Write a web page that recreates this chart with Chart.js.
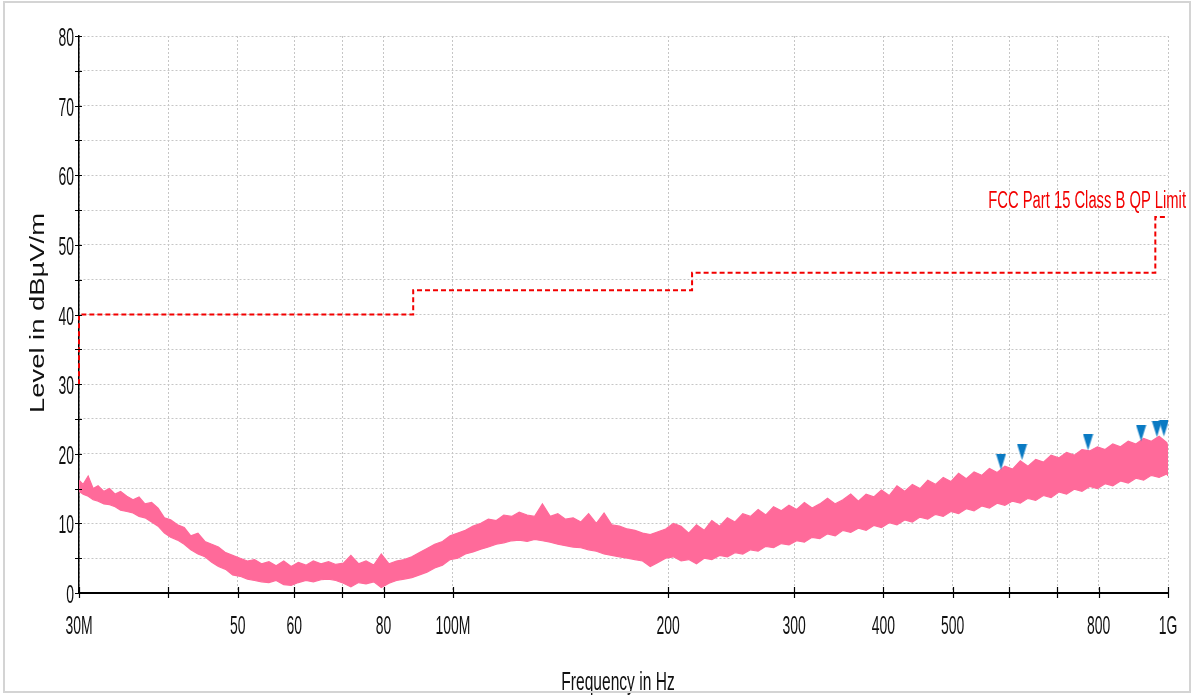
<!DOCTYPE html>
<html>
<head>
<meta charset="utf-8">
<script src="https://cdn.jsdelivr.net/npm/chart.js@4.4.1/dist/chart.umd.min.js"></script>
<style>
  html, body { margin: 0; padding: 0; background: #fff; }
  #wrap { position: relative; width: 1191px; height: 696px; }
  #frame { position: absolute; left: 3px; top: 1px; width: 1184px; height: 688px; border: 2px solid #d4d4d4; pointer-events: none; }
</style>
</head>
<body>
<div id="wrap">
  <canvas id="myChart" width="1191" height="696"></canvas>
  <div id="frame"></div>
</div>
<script>
const noiseFreq = [30, 30.4, 30.9, 31.4, 31.9, 32.5, 33.1, 33.7, 34.3, 35, 35.7, 36.4, 37.1, 37.9, 38.7, 39.5,
  40.3, 41.2, 42.1, 43, 44, 45, 46, 47, 48.1, 49.2, 50.4, 51.6, 52.8, 54, 55.3, 56.6, 58, 59.4,
  60.8, 62.3, 63.8, 65.4, 67, 68.6, 70.3, 72, 73.8, 75.6, 77.5, 79.4, 81.4, 83.4, 85.5, 87.6, 89.8,
  92, 94.3, 96.7, 99.1, 101.6, 104.1, 106.7, 109.4, 112.1, 115, 117.8, 120.8, 123.8, 127, 130.1,
  133.4, 136.8, 140.2, 143.7, 147.3, 151, 154.8, 158.7, 162.7, 166.8, 171, 175.3, 179.7, 184.2,
  188.8, 193.6, 198.4, 203.4, 208.5, 213.7, 219.1, 224.6, 230.2, 236, 242, 248, 254.3, 260.7,
  267.2, 273.9, 280.8, 287.9, 295.1, 302.5, 310.1, 317.9, 325.9, 334.1, 342.5, 351.1, 360, 369,
  378.3, 387.8, 397.5, 407.5, 417.8, 428.3, 439, 450, 461.4, 473, 484.9, 497, 509.5, 522.3, 535.5,
  548.9, 562.7, 576.9, 591.4, 606.2, 621.5, 637.1, 653.1, 669.5, 686.3, 703.6, 721.3, 739.4, 758,
  777, 796.6, 816.6, 837.1, 858.2, 879.8, 901.9, 924.6, 947.8, 971.7, 996.1, 1000];
const noiseMax = [16.2, 15.6, 16.8, 15.0, 15.4, 14.6, 15.0, 14.2, 14.6, 13.9, 13.4, 13.8, 12.8, 13.0, 12.2, 10.8,
  10.5, 9.8, 9.4, 8.2, 8.6, 7.4, 7.0, 6.6, 5.8, 5.4, 5.0, 4.6, 4.8, 4.2, 4.5, 3.9, 4.6, 3.8,
  4.4, 4.0, 4.6, 4.2, 4.5, 4.1, 4.3, 5.4, 4.2, 4.6, 4.0, 5.6, 4.2, 4.6, 4.8, 5.2, 5.8,
  6.4, 7.0, 7.4, 8.2, 8.6, 9.0, 9.6, 10.0, 10.6, 10.4, 11.2, 11.0, 11.6, 11.2, 11.0,
  12.8, 11.0, 11.4, 10.6, 10.8, 10.2, 11.4, 10.0, 11.5, 9.8, 9.6, 9.2, 9.0, 8.6,
  8.4, 8.8, 9.2, 10.0, 9.6, 8.6, 9.8, 9.0, 10.4, 9.6, 10.8, 10.2, 11.4, 11.0,
  12.0, 11.2, 12.4, 11.8, 12.6, 12.0, 13.0, 12.2, 12.8, 13.6, 12.8, 13.4, 14.2, 13.2,
  14.2, 13.8, 14.8, 14.0, 15.4, 14.6, 15.6, 15.0, 16.2, 15.6, 16.6, 16.0, 17.2, 16.4, 17.4,
  16.9, 17.9, 17.3, 18.2, 17.8, 19.0, 18.2, 19.2, 18.8, 19.8, 19.4, 20.2, 19.8, 20.6,
  20.4, 21.0, 20.6, 21.4, 21.0, 21.8, 21.4, 22.2, 21.8, 22.5, 21.6, 21.0];
const noiseMin = [14.6, 14.2, 13.9, 13.4, 13.2, 12.8, 12.7, 12.4, 11.9, 11.7, 11.5, 11.0, 10.8, 10.2, 9.6, 8.6,
  8.0, 7.6, 7.0, 6.2, 5.6, 5.2, 4.4, 3.8, 3.4, 2.6, 2.4, 2.0, 1.8, 1.6, 1.5, 1.8, 1.2, 1.1,
  1.5, 1.8, 1.6, 1.9, 2.0, 1.8, 1.4, 0.9, 1.5, 1.3, 1.6, 0.8, 1.4, 1.8, 2.0, 2.2, 2.6,
  3.0, 3.6, 4.0, 4.8, 5.0, 5.6, 5.9, 6.3, 6.6, 7.0, 7.2, 7.5, 7.6, 7.4, 7.7,
  7.5, 7.3, 7.0, 6.8, 6.6, 6.5, 6.2, 6.0, 5.6, 5.4, 5.2, 5.0, 4.8, 4.6,
  3.8, 4.4, 5.0, 5.2, 4.6, 4.8, 4.2, 5.0, 4.8, 5.4, 5.2, 5.8, 5.6, 6.2,
  6.0, 6.7, 6.5, 7.1, 6.9, 7.5, 7.3, 8.0, 7.8, 8.5, 8.2, 9.0, 8.7, 9.3,
  9.0, 9.7, 9.4, 10.1, 9.8, 10.5, 10.2, 10.9, 10.6, 11.3, 11.0, 11.7, 11.4, 12.1, 11.8,
  12.5, 12.2, 12.9, 12.6, 13.2, 12.9, 13.6, 13.3, 14.0, 13.7, 14.5, 14.2, 14.9, 14.6,
  15.3, 15.0, 15.7, 15.4, 16.1, 15.8, 16.5, 16.2, 16.9, 16.6, 17.1, 16.8];

// FCC limit breakpoints
const limitFreq = [30, 30, 88, 88, 216, 216, 960, 960, 1000];
const limitLevel = [30, 40, 40, 43.5, 43.5, 46, 46, 54, 54];
const limitName = 'FCC Part 15 Class B QP Limit';

// peak markers
const peakFreq = [584, 625, 773, 917, 965, 987];
const peakLevel = [17.7, 19.1, 20.5, 21.8, 22.4, 22.5];

const xTickValues = [30, 40, 50, 60, 70, 80, 100, 200, 300, 400, 500, 600, 700, 800, 1000];
const xTickLabels = ['30M', '', '50', '60', '', '80', '100M', '200', '300', '400', '500', '', '', '800', '1G'];
const yTickValues = [0, 10, 20, 30, 40, 50, 60, 70, 80];

const pink = '#ff6a9a';
const red = '#f20000';
const blue = '#0a7ac3';

const pts = (xs, ys) => xs.map((x, i) => ({x: x, y: ys[i]}));

// down-pointing marker whose tip sits on the data point
const tri = document.createElement('canvas');
tri.width = 11; tri.height = 32;
const tc = tri.getContext('2d');
tc.fillStyle = blue;
tc.beginPath(); tc.moveTo(0.5, 0); tc.lineTo(10.5, 0); tc.lineTo(5.5, 16); tc.closePath(); tc.fill();

function stretchText(ctx, t, x, y, sx, sy) {
  ctx.save();
  ctx.translate(x, y);
  ctx.scale(sx, sy);
  ctx.fillText(t, 0, 0);
  ctx.restore();
}

const axisDecor = {
  id: 'axisDecor',
  afterDraw(chart) {
    const {ctx, chartArea: a} = chart;
    const xs = chart.scales.x, ys = chart.scales.y;
    ctx.save();
    // tick marks across the axes
    ctx.strokeStyle = '#000';
    ctx.lineWidth = 1.2;
    ctx.beginPath();
    ys.ticks.forEach(t => {
      const py = Math.round(ys.getPixelForValue(t.value)) + 0.5;
      ctx.moveTo(a.left - 4, py); ctx.lineTo(a.left + 3, py);
    });
    xTickValues.forEach(v => {
      const px = Math.round(xs.getPixelForValue(v)) + 0.5;
      ctx.moveTo(px, a.bottom - 6); ctx.lineTo(px, a.bottom + 5);
    });
    ctx.stroke();

    ctx.fillStyle = '#111';
    ctx.textBaseline = 'middle';
    ctx.font = '17px "Liberation Sans", Arial, sans-serif';
    ctx.textAlign = 'right';
    yTickValues.forEach(v => stretchText(ctx, String(v), a.left - 5, ys.getPixelForValue(v) + 3, 0.82, 1.5));
    ctx.textAlign = 'center';
    xTickValues.forEach((v, i) => {
      if (xTickLabels[i]) stretchText(ctx, xTickLabels[i], xs.getPixelForValue(v), 627, 0.82, 1.5);
    });

    ctx.font = '19px "Liberation Sans", Arial, sans-serif';
    stretchText(ctx, 'Frequency in Hz', 618, 683, 0.82, 1.4);

    ctx.save();
    ctx.font = '20px "Liberation Sans", Arial, sans-serif';
    ctx.translate(38, 313);
    ctx.rotate(-Math.PI / 2);
    ctx.scale(1.37, 1);
    ctx.fillText('Level in dB\u00b5V/m', 0, 0);
    ctx.restore();

    ctx.fillStyle = red;
    ctx.textAlign = 'right';
    ctx.font = '18px "Liberation Sans", Arial, sans-serif';
    stretchText(ctx, limitName, 1186, 201, 0.82, 1.35);
    ctx.restore();
  }
};

const gridStyle = {color: '#c6c6c6', lineWidth: 1, drawTicks: false};

new Chart(document.getElementById('myChart'), {
  type: 'scatter',
  data: {
    datasets: [
      {
        label: 'Peaks',
        data: pts(peakFreq, peakLevel),
        pointStyle: tri,
        pointRadius: 5,
        showLine: false
      },
      {
        label: limitName,
        data: pts(limitFreq, limitLevel),
        showLine: true,
        borderColor: red,
        borderWidth: 2,
        borderDash: [5, 3],
        pointRadius: 0,
        fill: false,
        clip: 4
      },
      {
        label: 'Level max',
        data: pts(noiseFreq, noiseMax),
        showLine: true,
        borderColor: pink,
        backgroundColor: pink,
        borderWidth: 1.2,
        pointRadius: 0,
        fill: '+1'
      },
      {
        label: 'Level min',
        data: pts(noiseFreq, noiseMin),
        showLine: true,
        borderColor: pink,
        borderWidth: 1.2,
        pointRadius: 0,
        fill: false
      }
    ]
  },
  options: {
    responsive: false,
    animation: false,
    layout: {padding: {left: 0, top: 36, right: 23, bottom: 0}},
    plugins: {legend: {display: false}, tooltip: {enabled: false}},
    scales: {
      x: {
        type: 'logarithmic',
        min: 30,
        max: 1000,
        afterBuildTicks: s => { s.ticks = xTickValues.map(v => ({value: v})); },
        afterFit: s => { s.height = 103; },
        ticks: {display: false},
        grid: gridStyle,
        border: {display: true, color: '#000', width: 2, dash: [2, 2]}
      },
      y: {
        min: 0,
        max: 80,
        ticks: {display: false, stepSize: 5},
        afterFit: s => { s.width = 79; },
        grid: gridStyle,
        border: {display: true, color: '#000', width: 1.5, dash: [2, 2]}
      }
    }
  },
  plugins: [axisDecor]
});
</script>
</body>
</html>
